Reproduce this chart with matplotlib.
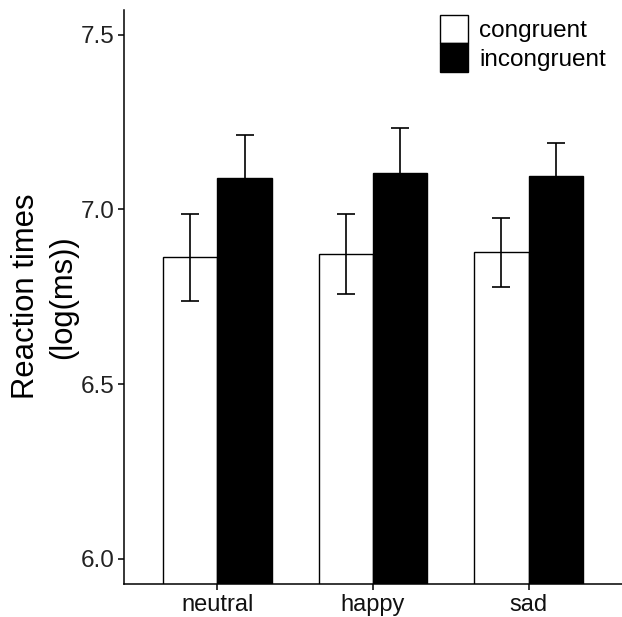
import matplotlib

matplotlib.use("Agg")
import matplotlib.pyplot as plt  # noqa: E402
import numpy as np  # noqa: E402
from matplotlib.patches import Patch  # noqa: E402

# ---------------------------------------------------------------------------
# Data
# ---------------------------------------------------------------------------
emotions = ["neutral", "happy", "sad"]
conditions = ["congruent", "incongruent"]
congruent_mean = [6.863, 6.873, 6.877]
congruent_err = [0.125, 0.115, 0.098]
incongruent_mean = [7.091, 7.105, 7.096]
incongruent_err = [0.122, 0.128, 0.094]

plt.rcParams.update({
    "font.family": ["Liberation Sans", "DejaVu Sans"],
    "axes.linewidth": 1.1,
    "xtick.major.width": 1.1,
    "ytick.major.width": 1.1,
    "xtick.major.size": 4,
    "ytick.major.size": 4,
})

fig = plt.figure(figsize=(6.22, 6.17), dpi=100)
ax = fig.add_axes([0.1994, 0.0535, 0.8006, 0.9311])

x = np.arange(1, len(emotions) + 1)
width = 0.35

bar_specs = [
    (congruent_mean, congruent_err, "white", -width / 2),
    (incongruent_mean, incongruent_err, "black", width / 2),
]
base = 5.0
for means, errs, face, off in bar_specs:
    heights = [m - base for m in means]
    ax.bar(x + off, heights, width, bottom=base, color=face,
           edgecolor="black", linewidth=1.0, zorder=2)
    ax.errorbar(x + off, means, yerr=errs, fmt="none", ecolor="black",
                elinewidth=1.2, capsize=6.2, capthick=1.2, zorder=3)

ax.set_xlim(0.4, 3.6)
ax.set_ylim(5.927, 7.573)
ax.set_xticks(x)
ax.set_xticklabels(emotions, fontsize=17, color="#111111")
ax.set_yticks([6.0, 6.5, 7.0, 7.5])
ax.set_yticklabels(["6.0", "6.5", "7.0", "7.5"], fontsize=17.5,
                   color="#222222")
ax.tick_params(axis="x", pad=3)
ax.tick_params(axis="y", pad=3)

ax.spines["top"].set_visible(False)
ax.spines["right"].set_visible(False)

ax.set_ylabel("Reaction times\n(log(ms))", fontsize=22.3, linespacing=1.3)
ax.yaxis.set_label_coords(-0.092, 0.5)

handles = [Patch(facecolor=c, edgecolor="black", linewidth=1.0)
           for c in ["white", "black"]]
leg = ax.legend(handles, conditions, loc="upper left",
                bbox_to_anchor=(440 / 622, 1 - 15 / 617),
                bbox_transform=fig.transFigure,
                frameon=False, fontsize=17.5, borderpad=0,
                borderaxespad=0, handlelength=1.15, handleheight=1.42,
                labelspacing=0.0, handletextpad=0.45)

fig.savefig("out.png", dpi=100)
